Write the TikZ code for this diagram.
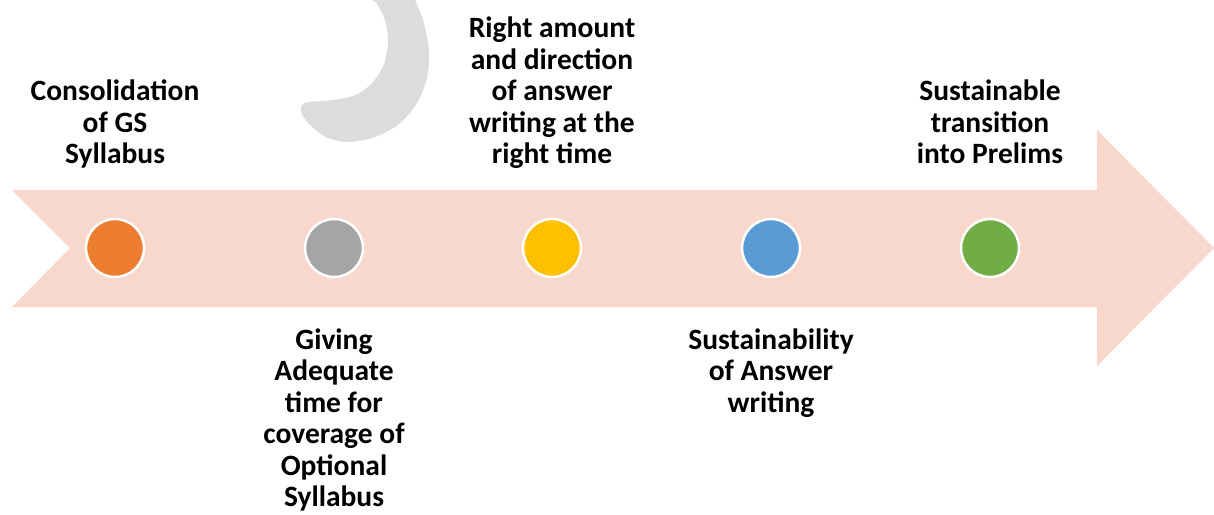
\documentclass[tikz,border=0pt]{standalone}
\usepackage{fontspec}
\setmainfont{Carlito}
\usetikzlibrary{positioning}
\definecolor{arrowpink}{HTML}{F8D7CC}
\definecolor{moongray}{HTML}{DCDCDC}
\definecolor{dotorange}{HTML}{ED7D31}
\definecolor{dotgray}{HTML}{A5A5A5}
\definecolor{dotgold}{HTML}{FFC000}
\definecolor{dotblue}{HTML}{5B9BD5}
\definecolor{dotgreen}{HTML}{70AD47}
\tikzset{
  % Точки на стрелке
  mile/.style  = {circle, draw=white, line width=2.5pt,
                  minimum size=58pt, inner sep=0pt},
  % Подписи
  lbl/.style   = {align=center, inner sep=0pt, text depth=6pt,
                  font=\bfseries\fontsize{29.5}{31.5}\selectfont},
  up lbl/.style   = {lbl, above=48pt of #1},
  down lbl/.style = {lbl, below=50pt of #1},
}
\begin{document}
\begin{tikzpicture}[x=1pt,y=-1pt]
  \useasboundingbox (0,0) rectangle (1214,514);
%---------------------------------------------
  \fill[moongray] (415,0) -- plot[smooth] coordinates {
      (415,0) (423,20) (429,50) (427,78) (417,103) (399,124) (375,137)
      (347,142) (326,137) (310,125) (301,112) (302,105) (309,102)
      (323,101) (340,99) (358,94) (373,82) (384,64) (388,42) (385,20)
      (377,4) (372,0)} -- cycle;
%---------------------------------------------
  \fill[arrowpink] (12,190) -- (1097,190) -- (1097,130) -- (1214,248)
      -- (1097,366) -- (1097,307) -- (12,307) -- (70,248) -- cycle;
%---------------------------------------------
  \foreach \n/\x/\c in {1/115/dotorange, 2/334/dotgray, 3/552/dotgold,
                        4/771/dotblue, 5/990/dotgreen}
    \node[mile, fill=\c] (m\n) at (\x,248) {};

  \node[up lbl=m1]   (t1) {Consolidation\\of GS\\Syllabus};
  \node[down lbl=m2] (t2) {Giving\\Adequate\\time for\\coverage of\\Optional\\Syllabus};
  \node[up lbl=m3]   (t3) {Right amount\\and direction\\of answer\\writing at the\\right time};
  \node[down lbl=m4] (t4) {Sustainability\\of Answer\\writing};
  \node[up lbl=m5]   (t5) {Sustainable\\transition\\into Prelims};
\end{tikzpicture}
\end{document}
